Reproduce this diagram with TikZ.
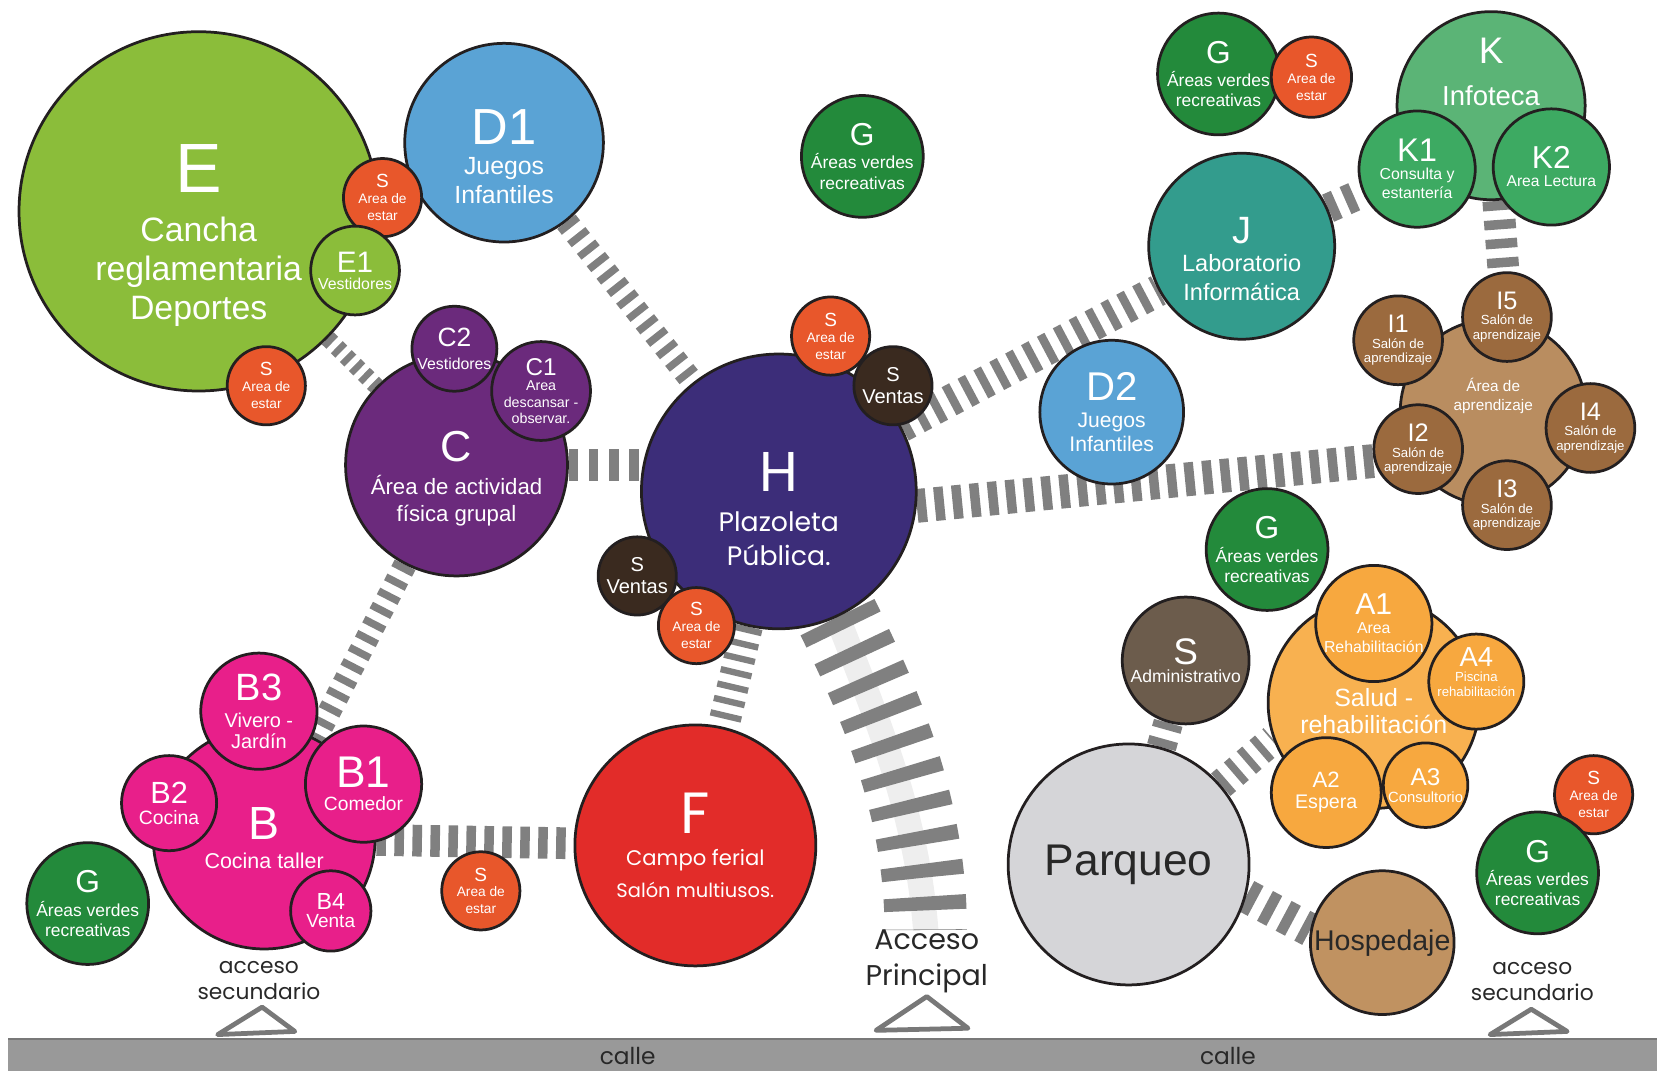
\documentclass[tikz,border=0pt]{standalone}
\usepackage{fontspec}
\setmainfont{Liberation Sans}
\newfontfamily\gothic{Poppins}
\usetikzlibrary{backgrounds}

\definecolor{edge}{RGB}{35,31,32}
\definecolor{limeE}{RGB}{139,189,58}
\definecolor{skyD}{RGB}{90,163,213}
\definecolor{orangeS}{RGB}{232,87,43}
\definecolor{brownS}{RGB}{58,42,31}
\definecolor{purpleC}{RGB}{107,42,124}
\definecolor{indigoH}{RGB}{60,45,121}
\definecolor{greenG}{RGB}{35,138,59}
\definecolor{tealJ}{RGB}{51,156,141}
\definecolor{greenK}{RGB}{91,180,118}
\definecolor{greenKs}{RGB}{61,170,98}
\definecolor{tanI}{RGB}{185,141,96}
\definecolor{brownI}{RGB}{155,106,62}
\definecolor{orangeA}{RGB}{248,177,80}
\definecolor{orangeAs}{RGB}{247,168,63}
\definecolor{greyAdm}{RGB}{108,92,76}
\definecolor{greyP}{RGB}{213,213,216}
\definecolor{tanHosp}{RGB}{192,146,97}
\definecolor{pinkB}{RGB}{232,31,138}
\definecolor{redF}{RGB}{226,44,41}
\definecolor{railgray}{RGB}{128,128,128}
\definecolor{bandgray}{RGB}{238,238,238}
\definecolor{street}{RGB}{153,153,153}
\definecolor{gategray}{RGB}{120,120,120}
\definecolor{ink}{RGB}{40,40,40}

\newcommand\fsz[2]{\fontsize{#1}{#2}\selectfont}

\tikzset{
  bubble/.style={circle, draw=edge, line width=2.6pt, inner sep=0pt, align=center, text=white, minimum size=2*#1},
  tx/.style={align=center, text=white, inner sep=0pt},
  rail/.style={draw=railgray, line width=#1, dash pattern=on 8pt off 8pt},
  gate/.style={draw=gategray, line width=4.5pt, line join=round, line cap=round},
  txt/.style={align=center, text=ink, inner sep=0pt},
  sarea/.style={bubble=37, fill=orangeS, font=\fsz{13}{16}},
  ventas/.style={bubble=37, fill=brownS, font=\fsz{19}{21}},
  green/.style={bubble=55, fill=greenG, font=\fsz{16.5}{19}},
  salon/.style={bubble=42, fill=brownI, font=\fsz{12.5}{14}},
}

\begin{document}
\begin{tikzpicture}[x=1pt, y=-1pt]
\useasboundingbox (0,0) rectangle (1568,1013);

% Street
\fill[street] (8,983) rectangle (1568,1013);
\draw[gategray, line width=1.5pt] (8,983) -- (1568,983);
\node[txt, font=\gothic\fsz{22}{22}] (calle1) at (594,999) {calle};
\node[txt, font=\gothic\fsz{22}{22}] (calle2) at (1162,999) {calle};

% Accesses
\node[txt, font=\gothic\fsz{20.6}{25}] (acc1) at (245,928) {acceso\\secundario};
\node[txt, font=\gothic\fsz{27}{34}] (acc0) at (877,910) {Acceso\\Principal};
\node[txt, font=\gothic\fsz{20.6}{25}] (acc2) at (1450,929) {acceso\\secundario};
\draw[gate] (206,979) -- (248,953) -- (279,976) -- cycle;
\draw[gate] (829,975) -- (877,943) -- (916,973) -- cycle;
\draw[gate] (1410,979) -- (1449,955) -- (1483,976) -- cycle;
\coordinate (accin) at (876,880);

% Zone E
\node[bubble=170, fill=limeE, label={[tx, name=Etxt, font=\fsz{32}{37}, yshift=-23pt]center:{{\fsz{66}{66}E}\\[9pt]Cancha\\reglamentaria\\Deportes}}] (E) at (188,200) {};
\node[bubble=94, fill=skyD, label={[tx, name=D1txt, font=\fsz{23.5}{27}, yshift=-13pt]center:{{\fsz{48}{48}D1}\\[2pt]Juegos\\Infantiles}}] (D1) at (477,135) {};
\node[sarea] (sE1) at (362,187) {{\fsz{18}{18}S}\\[-1pt]Area de\\estar};
\node[bubble=42, fill=limeE, font=\fsz{15}{16}] (E1) at (336,256) {{\fsz{28}{28}E1}\\Vestidores};
\node[sarea] (sE2) at (252,365) {{\fsz{18}{18}S}\\[-1pt]Area de\\estar};

% Zone C
\node[bubble=105, fill=purpleC, label={[tx, name=Ctxt, font=\fsz{21}{25}, yshift=-13pt]center:{{\fsz{41}{41}C}\\[6pt]Área de actividad\\física grupal}}] (C) at (432,440) {};
\node[bubble=40, fill=purpleC, font=\fsz{15}{17}] (C2) at (430,330) {{\fsz{25}{25}C2}\\[5pt]Vestidores};
\node[bubble=43, fill=purpleC, font=\fsz{13.5}{15.5}] (C1) at (512,370) {{\fsz{23}{23}C1}\\[-1pt]Area\\descansar -\\observar.};

% Zone H
\node[bubble=130, fill=indigoH, label={[tx, name=Htxt, font=\gothic\fsz{25.3}{32}, yshift=-17pt]center:{{\fsz{53}{53}H}\\[6pt]Plazoleta\\Pública.}}] (H) at (737,465) {};
\node[sarea] (sH1) at (786,318) {{\fsz{18}{18}S}\\[-1pt]Area de\\estar};
\node[ventas] (vH1) at (845,365) {S\\Ventas};
\node[ventas] (vH2) at (603,545) {S\\Ventas};
\node[sarea, bubble=36] (sH2) at (659,592) {{\fsz{18}{18}S}\\[-1pt]Area de\\estar};

% Green areas
\node[green] (G1) at (816,148) {{\fsz{30}{30}G}\\[3pt]Áreas verdes\\recreativas};
\node[green] (G2) at (1153,70) {{\fsz{30}{30}G}\\[3pt]Áreas verdes\\recreativas};
\node[sarea, bubble=38] (sG2) at (1241,73) {{\fsz{18}{18}S}\\[-1pt]Area de\\estar};
\node[green] (G3) at (1199,520) {{\fsz{30}{30}G}\\[3pt]Áreas verdes\\recreativas};
\node[sarea] (sG4) at (1508,752) {{\fsz{18}{18}S}\\[-1pt]Area de\\estar};
\node[green] (G4) at (1455,826) {{\fsz{30}{30}G}\\[3pt]Áreas verdes\\recreativas};
\node[green] (G5) at (83,855) {{\fsz{30}{30}G}\\[3pt]Áreas verdes\\recreativas};

% Zones D2, J, K
\node[bubble=68, fill=skyD, font=\fsz{20}{23}] (D2) at (1052,390) {{\fsz{38}{38}D2}\\[3pt]Juegos\\Infantiles};
\node[bubble=88, fill=tealJ, label={[tx, name=Jtxt, font=\fsz{22.3}{27}, yshift=-12pt]center:{{\fsz{36}{36}J}\\Laboratorio\\Informática}}] (J) at (1175,233) {};
\node[bubble=89, fill=greenK, label={[tx, name=Ktxt, font=\fsz{26}{26}, yshift=32pt]center:{{\fsz{35}{35}K}\\[14pt]Infoteca}}] (K) at (1411,100) {};
\node[bubble=55, fill=greenKs, font=\fsz{15}{18}] (K1) at (1341,160) {{\fsz{31}{31}K1}\\[-1pt]Consulta y\\estantería};
\node[bubble=55, fill=greenKs, font=\fsz{14.8}{17}] (K2) at (1468,158) {{\fsz{30}{30}K2}\\Area Lectura};

% Zone I
\node[bubble=88, fill=tanI, label={[tx, name=Itxt, font=\fsz{14.5}{18}, yshift=15pt]center:{Área de\\aprendizaje}}] (I) at (1413,390) {};
\node[salon] (I1) at (1323,322) {{\fsz{24}{24}I1}\\[1pt]Salón de\\aprendizaje};
\node[salon] (I5) at (1426,300) {{\fsz{24}{24}I5}\\[1pt]Salón de\\aprendizaje};
\node[salon] (I4) at (1505,405) {{\fsz{24}{24}I4}\\[1pt]Salón de\\aprendizaje};
\node[salon] (I2) at (1342,425) {{\fsz{24}{24}I2}\\[1pt]Salón de\\aprendizaje};
\node[salon] (I3) at (1426,478) {{\fsz{24}{24}I3}\\[1pt]Salón de\\aprendizaje};

% Zone A
\node[bubble=100, fill=orangeA, label={[tx, name=Atxt, font=\fsz{23.6}{26}, yshift=-8pt]center:{Salud -\\rehabilitación}}] (A) at (1300,665) {};
\node[bubble=55, fill=orangeAs, font=\fsz{15}{18}] (A1) at (1300,590) {{\fsz{28.6}{28.6}A1}\\Area\\Rehabilitación};
\node[bubble=45, fill=orangeAs, label={[tx, name=A4txt, font=\fsz{12.5}{14}, yshift=9pt]center:{{\fsz{26}{26}A4}\\[0pt]Piscina\\rehabilitación}}] (A4) at (1397,645) {};
\node[bubble=52, fill=orangeAs, font=\fsz{18.6}{20}] (A2) at (1255,750) {{\fsz{21}{21}A2}\\Espera};
\node[bubble=40, fill=orangeAs, font=\fsz{14}{16}] (A3) at (1349,743) {{\fsz{23}{23}A3}\\Consultorio};
\node[bubble=60, fill=greyAdm, font=\fsz{16.6}{17}] (Adm) at (1122,625) {{\fsz{35}{35}S}\\Administrativo};
\node[bubble=114, fill=greyP, text=ink, font=\fsz{42}{42}] (P) at (1068,818) {Parqueo};
\node[bubble=68, fill=tanHosp, text=ink, font=\fsz{27}{27}] (Hosp) at (1308,892) {Hospedaje};

% Zone B
\node[bubble=105, fill=pinkB, font=\fsz{20.3}{27}] (B) at (250,793) {{\fsz{44}{44}B}\\Cocina taller};
\node[bubble=55, fill=pinkB, font=\fsz{18.9}{20}] (B3) at (245,673) {{\fsz{36}{36}B3}\\[6pt]Vivero -\\Jardín};
\node[bubble=55, fill=pinkB, font=\fsz{18.2}{20}] (B1) at (344,742) {{\fsz{42}{42}B1}\\[2pt]Comedor};
\node[bubble=45, fill=pinkB, font=\fsz{18.3}{20}] (B2) at (160,760) {{\fsz{29}{29}B2}\\Cocina};
\node[bubble=38, fill=pinkB, font=\fsz{18}{17}] (B4) at (313,862) {{\fsz{22}{22}B4}\\Venta};
\node[sarea] (sB) at (455,843) {{\fsz{18}{18}S}\\[-1pt]Area de\\estar};

% Zone F
\node[bubble=114, fill=redF, font=\gothic\fsz{18.4}{30}] (F) at (658,800) {{\fsz{55}{55}F}\\[0pt]{\fsz{20}{30}Campo ferial}\\Salón multiusos.};

% Connections
\begin{scope}[on background layer]
  \draw[rail=16, dash pattern=on 6pt off 6pt] (E) -- (C);
  \draw[rail=22, dash pattern=on 7pt off 8pt] (D1) -- (H);
  \draw[rail=30, dash pattern=on 9pt off 10pt] (C.east) -- (C.east -| H.west);
  \draw[rail=22, dash pattern=on 7pt off 8pt] (C) -- (B);
  \draw[rail=30, dash pattern=on 9pt off 8pt] (B) -- (F);
  \draw[rail=30, dash pattern=on 6pt off 8pt] (H) -- (F);
  \draw[rail=30, dash pattern=on 8pt off 9pt] (H) -- (J);
  \draw[rail=32, dash pattern=on 9pt off 8pt] (H.-6) -- (I2.195);
  \draw[rail=28, dash pattern=on 9pt off 9pt] (J) -- (K1);
  \draw[rail=30, dash pattern=on 9pt off 9pt] (K) -- (I5);
  \draw[rail=28, dash pattern=on 8pt off 9pt] (P) -- (Adm);
  \draw[rail=28, dash pattern=on 7pt off 9pt] (P) -- (A.200);
  \draw[rail=32, dash pattern=on 10pt off 10pt] (P.-15) -- (Hosp.170);
  % main access
  \draw[bandgray, line width=24pt, xshift=-9pt] (H.-65) .. controls (830,660) and (876,760) .. (accin);
  \draw[rail=78, dash pattern=on 13pt off 18pt] (H.-65) .. controls (830,660) and (876,760) .. (accin);
\end{scope}
\end{tikzpicture}
\end{document}
